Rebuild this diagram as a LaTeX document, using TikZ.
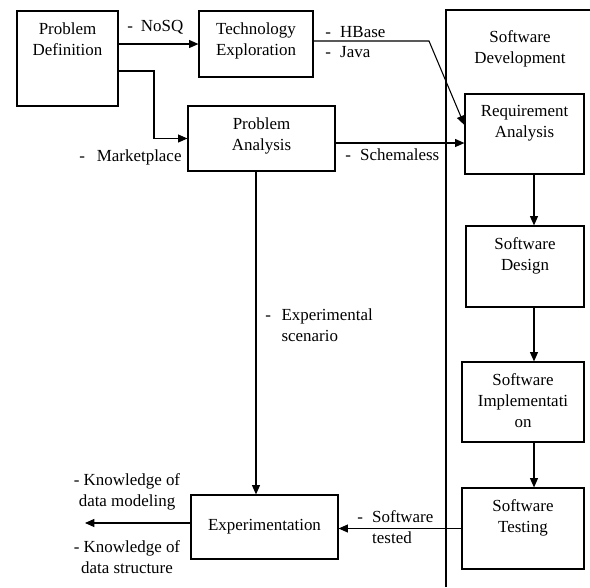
\documentclass[tikz,border=0pt]{standalone}
\usepackage{fontspec}
\setmainfont{Liberation Serif}
\usetikzlibrary{arrows.meta,positioning,calc}
\tikzset{
  flow/.style={-{Triangle[length=7pt,width=6pt]}, line width=0.8pt, draw=black},
  stepbox/.style={draw=black, line width=0.9pt, fill=white, inner sep=0pt},
  boxtext/.style={anchor=north, yshift=-9pt, inner sep=0pt, align=center, font=\fontsize{12.7}{15.6}\selectfont},
  note/.style={inner sep=0pt, align=left, font=\fontsize{12.7}{15.6}\selectfont},
}
\begin{document}
\begin{tikzpicture}[x=0.75pt,y=-0.75pt]
\path[use as bounding box] (0,0) rectangle (590,587);

% software development frame (open to the right and bottom)
\draw[line width=0.9pt] (446,587) -- (446,10) -- (590,10);
\node[boxtext,anchor=center,yshift=0pt] (swdev) at (520,37) {Software\\Development};

% left column
\node[stepbox,minimum width=101*0.75pt,minimum height=95*0.75pt,
  label={[boxtext]north:{Problem\\Definition}}] (pdef) at (67.5,58.5) {};
\node[stepbox,minimum width=114*0.75pt,minimum height=66*0.75pt,
  label={[boxtext]north:{Technology\\Exploration}}] (tech) at (256,44) {};
\node[stepbox,minimum width=147*0.75pt,minimum height=65*0.75pt,
  label={[boxtext]north:{Problem\\Analysis}}] (pana) at (261.5,138.5) {};
\node[stepbox,minimum width=147*0.75pt,minimum height=64*0.75pt,
  font=\fontsize{12.7}{15.6}\selectfont] (expt) at (264.5,527) {Experimentation};

% software development stages
\node[stepbox,minimum width=119*0.75pt,minimum height=80*0.75pt,
  label={[boxtext]north:{Requirement\\Analysis}}] (req) at (524.5,134) {};
\node[stepbox,minimum width=118*0.75pt,minimum height=81*0.75pt,
  label={[boxtext]north:{Software\\Design}}] (design) at (525,266.5) {};
\node[stepbox,minimum width=122*0.75pt,minimum height=80*0.75pt,
  label={[boxtext]north:{Software\\Implementati\\on}}] (impl) at (523,402) {};
\node[stepbox,minimum width=122*0.75pt,minimum height=81*0.75pt,
  label={[boxtext]north:{Software\\Testing}}] (test) at (523,528.5) {};

% helper points
\coordinate (bend1) at (154,71);
\coordinate (kink) at (429,41);
\coordinate (spine) at (534,0);
\coordinate (drop) at (256,0);
\coordinate (knowout) at (85,523);

% connectors
\draw[flow] (pdef.east |- tech.west) -- (tech.west);
\draw[flow] (pdef.east |- bend1) -- (bend1) |- (pana.west);
\draw[flow] (tech.east |- kink) -- (kink) -- (req.west |- 0,125);
\draw[flow] (pana.east |- 0,143) -- (req.west |- 0,143);
\draw[flow] (req.south -| spine) -- (design.north -| spine);
\draw[flow] (design.south -| spine) -- (impl.north -| spine);
\draw[flow] (impl.south -| spine) -- (test.north -| spine);
\draw[flow] (pana.south -| drop) -- (expt.north -| drop);
\draw[flow] (test.west) -- (test.west -| expt.east);
\draw[flow] (expt.west |- knowout) -- (knowout);

% connector notes
\node[note,anchor=west] (nosq) at (127,27) {-\hspace{6pt}NoSQ};
\node[note,anchor=west] (hbase) at (325,42) {-\hspace{7pt}HBase\\-\hspace{7pt}Java};
\node[note,anchor=west] (market) at (79,157) {-\hspace{9pt}Marketplace};
\node[note,anchor=west] (schema) at (345,155) {-\hspace{7pt}Schemaless};
\node[note,anchor=west] (scen) at (265,326.5)
  {\begin{tabular}{@{}l@{\hspace{8pt}}l@{}}-&Experimental\\&scenario\end{tabular}};
\node[note,anchor=west] (tested) at (357,528.5)
  {\begin{tabular}{@{}l@{\hspace{7pt}}l@{}}-&Software\\&tested\end{tabular}};
\node[note,align=center] (kmodel) at (127,492) {- Knowledge of\\data modeling};
\node[note,align=center] (kstruct) at (127,557) {- Knowledge of\\data structure};
\end{tikzpicture}
\end{document}
